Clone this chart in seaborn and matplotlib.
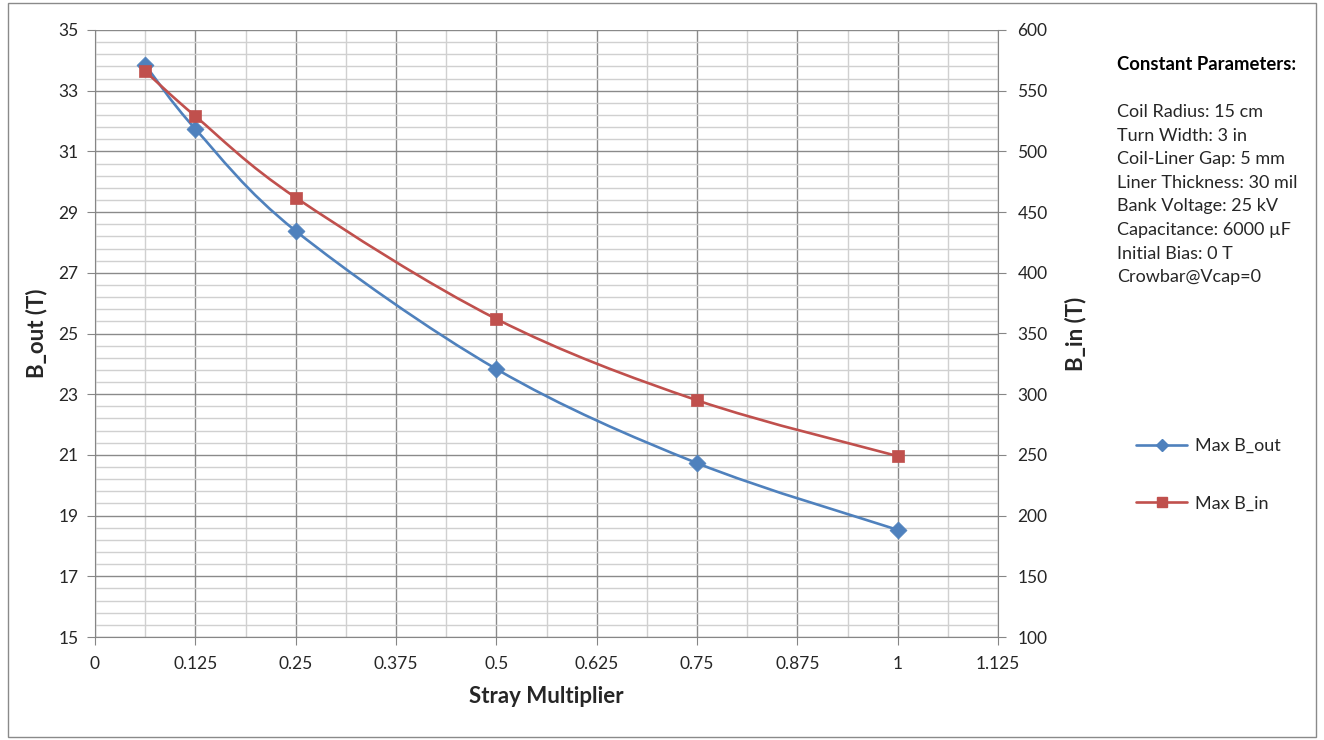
import numpy as np
import pandas as pd
import seaborn as sns
import matplotlib.pyplot as plt
from matplotlib.path import Path
from matplotlib.patches import PathPatch, Rectangle
from matplotlib.lines import Line2D

# ---------------------------------------------------------
# DATA
# ---------------------------------------------------------
stray_mult = [0.0625, 0.125, 0.25, 0.5, 0.75, 1.0]
max_b_out = [33.85, 31.74, 28.38, 23.83, 20.73, 18.53]   # left axis (T)
max_b_in = [566, 529, 462, 362, 295, 249]                 # right axis (T)

x_ticks = [0, 0.125, 0.25, 0.375, 0.5, 0.625, 0.75, 0.875, 1, 1.125]
x_ticklabels = ["0", "0.125", "0.25", "0.375", "0.5", "0.625", "0.75", "0.875", "1", "1.125"]
left_ticks = [15, 17, 19, 21, 23, 25, 27, 29, 31, 33, 35]
right_ticks = [100, 150, 200, 250, 300, 350, 400, 450, 500, 550, 600]

params_title = "Constant Parameters:"
params_lines = [
    "Coil Radius: 15 cm",
    "Turn Width: 3 in",
    "Coil-Liner Gap: 5 mm",
    "Liner Thickness: 30 mil",
    "Bank Voltage: 25 kV",
    "Capacitance: 6000 \u00b5F",
    "Initial Bias: 0 T",
    "Crowbar@Vcap=0",
]

BLUE = '#4F81BD'
RED = '#C0504D'
GRID_MAJ = '#8a8a8a'
GRID_MIN = '#d0d0d0'
AX_COL = '#868686'
TXT = '#262626'

sns.set_style("white")
plt.rcParams['font.family'] = ['Lato', 'DejaVu Sans']


def smooth_path(xs, ys):
    # excel style smoothed line: cubic bezier between points
    pts = np.column_stack([np.asarray(xs, float), np.asarray(ys, float)])
    n = len(pts)
    verts = [pts[0]]
    codes = [Path.MOVETO]
    for i in range(n - 1):
        p0 = pts[i - 1] if i > 0 else pts[i]
        p1 = pts[i]
        p2 = pts[i + 1]
        p3 = pts[i + 2] if i + 2 < n else pts[i + 1]
        verts += [p1 + (p2 - p0) / 6.0, p2 - (p3 - p1) / 6.0, p2]
        codes += [Path.CURVE4] * 3
    return Path(verts, codes)


df = pd.DataFrame({'x': stray_mult, 'b_out': max_b_out, 'b_in': max_b_in})

fig = plt.figure(figsize=(13.24, 7.40), dpi=100)
ax = fig.add_axes([95 / 1324, 1 - 637 / 740, (998 - 95) / 1324, (637 - 30) / 740])
ax2 = ax.twinx()

# smoothed lines
ax.add_patch(PathPatch(smooth_path(df['x'], df['b_out']), facecolor='none',
                       edgecolor=BLUE, linewidth=1.9, zorder=3))
ax2.add_patch(PathPatch(smooth_path(df['x'], df['b_in']), facecolor='none',
                        edgecolor=RED, linewidth=1.9, zorder=3))

# markers
sns.scatterplot(data=df, x='x', y='b_out', marker='D', s=75, color=BLUE,
                edgecolor=BLUE, linewidth=0.5, ax=ax, zorder=4, legend=False)
sns.scatterplot(data=df, x='x', y='b_in', marker='s', s=75, color=RED,
                edgecolor=RED, linewidth=0.5, ax=ax2, zorder=4, legend=False)

# axes limits/ticks
ax.set_xlim(0, 1.125)
ax.set_ylim(15, 35)
ax2.set_ylim(100, 600)
ax.set_xticks(x_ticks)
ax.set_xticklabels(x_ticklabels)
ax.set_xticks(np.arange(0.0625, 1.125, 0.125), minor=True)
ax.set_yticks(left_ticks)
ax.set_yticks([v for v in np.arange(15, 35.01, 0.4) if abs(v - round(v)) > 1e-6 or int(round(v)) % 2 == 0],
              minor=True)
ax2.set_yticks(right_ticks)

# grid
ax.grid(which='minor', color=GRID_MIN, linewidth=1.0)
ax.grid(which='major', color=GRID_MAJ, linewidth=1.0)
ax.set_axisbelow(True)

for a in (ax, ax2):
    for s in a.spines.values():
        s.set_visible(False)
ax.spines['bottom'].set_visible(True)
ax.spines['bottom'].set_color(AX_COL)
ax.spines['left'].set_visible(True)
ax.spines['left'].set_color(AX_COL)
ax2.spines['right'].set_visible(True)
ax2.spines['right'].set_color(AX_COL)

ax.tick_params(axis='x', which='major', direction='out', length=6, color=AX_COL,
               labelsize=12.5, labelcolor=TXT, pad=8, bottom=True)
ax.tick_params(axis='y', which='major', direction='out', length=6, color=AX_COL,
               labelsize=12.5, labelcolor=TXT, pad=6, left=True)
ax.tick_params(which='minor', length=0)
ax2.tick_params(axis='y', which='major', direction='out', length=6, color=AX_COL,
                labelsize=12.5, labelcolor=TXT, pad=8, right=True)
ax2.tick_params(which='minor', length=0)

ax.set_xlabel("Stray Multiplier", fontsize=16, fontweight='bold', color=TXT, labelpad=10)
ax.set_ylabel("B_out (T)", fontsize=16, fontweight='bold', color=TXT, labelpad=8)
ax2.set_ylabel("B_in (T)", fontsize=16, fontweight='bold', color=TXT, labelpad=12)

# parameters text
fig.text(1117 / 1324, 1 - 65 / 740, params_title, fontsize=13.3, fontweight='bold',
         va='center', ha='left', color='black')
for i, line in enumerate(params_lines):
    fig.text(1117 / 1324, 1 - (112 + i * 23.6) / 740, line, fontsize=13,
             va='center', ha='left', color=TXT)

# legend
handles = [
    Line2D([], [], color=BLUE, lw=1.9, marker='D', markersize=6),
    Line2D([], [], color=RED, lw=1.9, marker='s', markersize=7),
]
fig.legend(handles, ["Max B_out", "Max B_in"], loc='center left',
           bbox_to_anchor=(1120 / 1324, 1 - 475 / 740), frameon=False,
           fontsize=13, labelspacing=2.3, handlelength=2.8, handletextpad=0.45,
           labelcolor=TXT)

# outer chart border
fig.patches.append(Rectangle((8 / 1324, 3 / 740), (1316 - 8) / 1324, (737 - 3) / 740,
                             transform=fig.transFigure, fill=False,
                             edgecolor='#8a8a8a', linewidth=1.0))

fig.savefig('out.png', dpi=100)
